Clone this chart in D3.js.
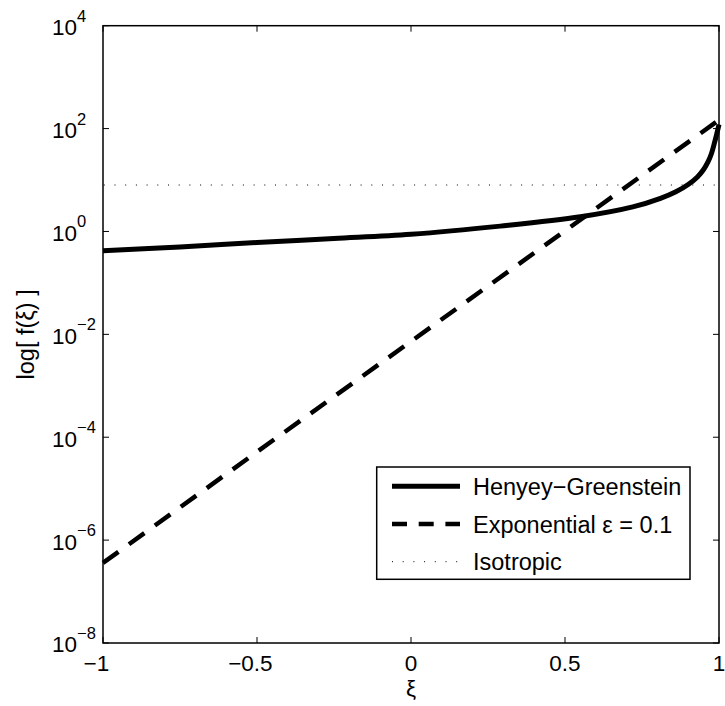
<!DOCTYPE html>
<html>
<head>
<meta charset="utf-8">
<script src="https://cdn.jsdelivr.net/npm/d3@7"></script>
<style>
  body { margin: 0; background: #fff; }
  svg { display: block; font-family: "Liberation Sans", Arial, sans-serif; }
</style>
</head>
<body>
<div id="chart"></div>
<script>
  // data
  var xTicks = [-1, -0.5, 0, 0.5, 1];
  var yTickExps = [-8, -6, -4, -2, 0, 2, 4];

  var hgXi = [-1, -0.75, -0.5, -0.25, 0, 0.29, 0.55, 0.72, 0.81, 0.86, 0.9, 0.93, 0.95, 0.965, 0.975, 0.985, 0.993, 1];
  var hgF  = [0.42, 0.5, 0.61, 0.73, 0.88, 1.27, 1.93, 3.0, 4.4, 5.9, 8.2, 11.5, 16, 23, 32, 52, 80, 120];

  var expXi = [-1, -0.5, 0, 0.5, 1];
  var expF  = [3.6e-7, 5.2e-5, 7.3e-3, 1.03, 147];

  var isoXi = [-1, 1];
  var isoF  = [8, 8];

  var legendLabels = ["Henyey\u2212Greenstein", "Exponential \u03b5 = 0.1", "Isotropic"];

  var W = 725, H = 706;
  var margin = {top: 25.7, right: 6, bottom: 63, left: 103},
      width = W - margin.left - margin.right,
      height = H - margin.top - margin.bottom;

  var svg = d3.select("#chart")
    .append("svg")
      .attr("width", W)
      .attr("height", H);

  var g = svg.append("g")
      .attr("transform", "translate(" + margin.left + "," + margin.top + ")");

  var x = d3.scaleLinear().domain([-1, 1]).range([0, width]);
  var y = d3.scaleLog().domain([1e-8, 1e4]).range([height, 0]);

  var tickLen = 6;
  var fs = 22.5;

  // frame
  g.append("rect")
    .attr("x", 0).attr("y", 0)
    .attr("width", width).attr("height", height)
    .attr("fill", "none")
    .attr("stroke", "#000")
    .attr("stroke-width", 1.5);

  // ticks inside, all four sides
  xTicks.forEach(function(t) {
    g.append("line").attr("x1", x(t)).attr("x2", x(t)).attr("y1", height).attr("y2", height - tickLen)
      .attr("stroke", "#000").attr("stroke-width", 1);
    g.append("line").attr("x1", x(t)).attr("x2", x(t)).attr("y1", 0).attr("y2", tickLen)
      .attr("stroke", "#000").attr("stroke-width", 1);
  });
  yTickExps.forEach(function(e) {
    var v = Math.pow(10, e);
    g.append("line").attr("x1", 0).attr("x2", tickLen).attr("y1", y(v)).attr("y2", y(v))
      .attr("stroke", "#000").attr("stroke-width", 1);
    g.append("line").attr("x1", width).attr("x2", width - tickLen).attr("y1", y(v)).attr("y2", y(v))
      .attr("stroke", "#000").attr("stroke-width", 1);
  });

  // x tick labels (number centred on the tick, minus sign hangs left like MATLAB)
  xTicks.forEach(function(t) {
    var num = d3.format("")(Math.abs(t));
    var tx = g.append("text")
      .attr("x", x(t)).attr("y", height + 28)
      .attr("text-anchor", "middle")
      .style("font-size", fs + "px")
      .text(num);
    if (t < 0) {
      var bb = tx.node().getBBox();
      g.append("text")
        .attr("x", bb.x).attr("y", height + 28)
        .attr("text-anchor", "end")
        .style("font-size", fs + "px")
        .text("\u2212");
    }
  });

  // y tick labels 10^e
  yTickExps.forEach(function(e) {
    var yy = y(Math.pow(10, e));
    g.append("text")
      .attr("x", -26).attr("y", yy + 9.5)
      .attr("text-anchor", "end")
      .style("font-size", fs + "px")
      .text("10");
    g.append("text")
      .attr("x", -26).attr("y", yy - 4)
      .attr("text-anchor", "start")
      .style("font-size", "16.5px")
      .text(e < 0 ? "\u2212" + Math.abs(e) : e);
  });

  // axis labels
  g.append("text")
    .attr("x", x(0)).attr("y", height + 53)
    .attr("text-anchor", "middle")
    .style("font-size", fs + "px")
    .text("\u03be");

  g.append("text")
    .attr("transform", "translate(" + (33.5 - margin.left) + "," + (height / 2) + ") rotate(-90)")
    .attr("text-anchor", "middle")
    .style("font-size", "23.5px")
    .text("log[ f(\u03be) ]");

  // lines
  var line = d3.line()
    .x(function(d) { return x(d[0]); })
    .y(function(d) { return y(d[1]); });

  g.append("path")
    .datum(d3.zip(isoXi, isoF))
    .attr("d", line)
    .attr("fill", "none")
    .attr("stroke", "#000")
    .attr("stroke-width", 1)
    .attr("stroke-dasharray", "1,9.7")
    .attr("stroke-dashoffset", -11.5);

  g.append("path")
    .datum(d3.zip(expXi, expF))
    .attr("d", line)
    .attr("fill", "none")
    .attr("stroke", "#000")
    .attr("stroke-width", 4.5)
    .attr("stroke-dasharray", "19,13");

  var hgLine = d3.line()
    .x(function(d) { return x(d[0]); })
    .y(function(d) { return y(d[1]); })
    .curve(d3.curveCatmullRom.alpha(0.5));

  g.append("path")
    .datum(d3.zip(hgXi, hgF))
    .attr("d", hgLine)
    .attr("fill", "none")
    .attr("stroke", "#000")
    .attr("stroke-width", 5);

  // legend
  var lg = svg.append("g");
  lg.append("rect")
    .attr("x", 376.7).attr("y", 467)
    .attr("width", 313.3).attr("height", 112.3)
    .attr("fill", "#fff")
    .attr("stroke", "#000")
    .attr("stroke-width", 1.5);

  var styles = [
    {w: 5, dash: null},
    {w: 4.5, dash: "15,11.7"},
    {w: 1, dash: "1,9.7"}
  ];
  legendLabels.forEach(function(lbl, i) {
    var ly = 486.3 + i * 37.7;
    lg.append("line")
      .attr("x1", 392).attr("x2", 460)
      .attr("y1", ly).attr("y2", ly)
      .attr("stroke", "#000")
      .attr("stroke-width", styles[i].w)
      .attr("stroke-dasharray", styles[i].dash);
    lg.append("text")
      .attr("x", 473).attr("y", ly + 8.5)
      .style("font-size", "23.5px")
      .text(lbl);
  });
</script>
</body>
</html>
